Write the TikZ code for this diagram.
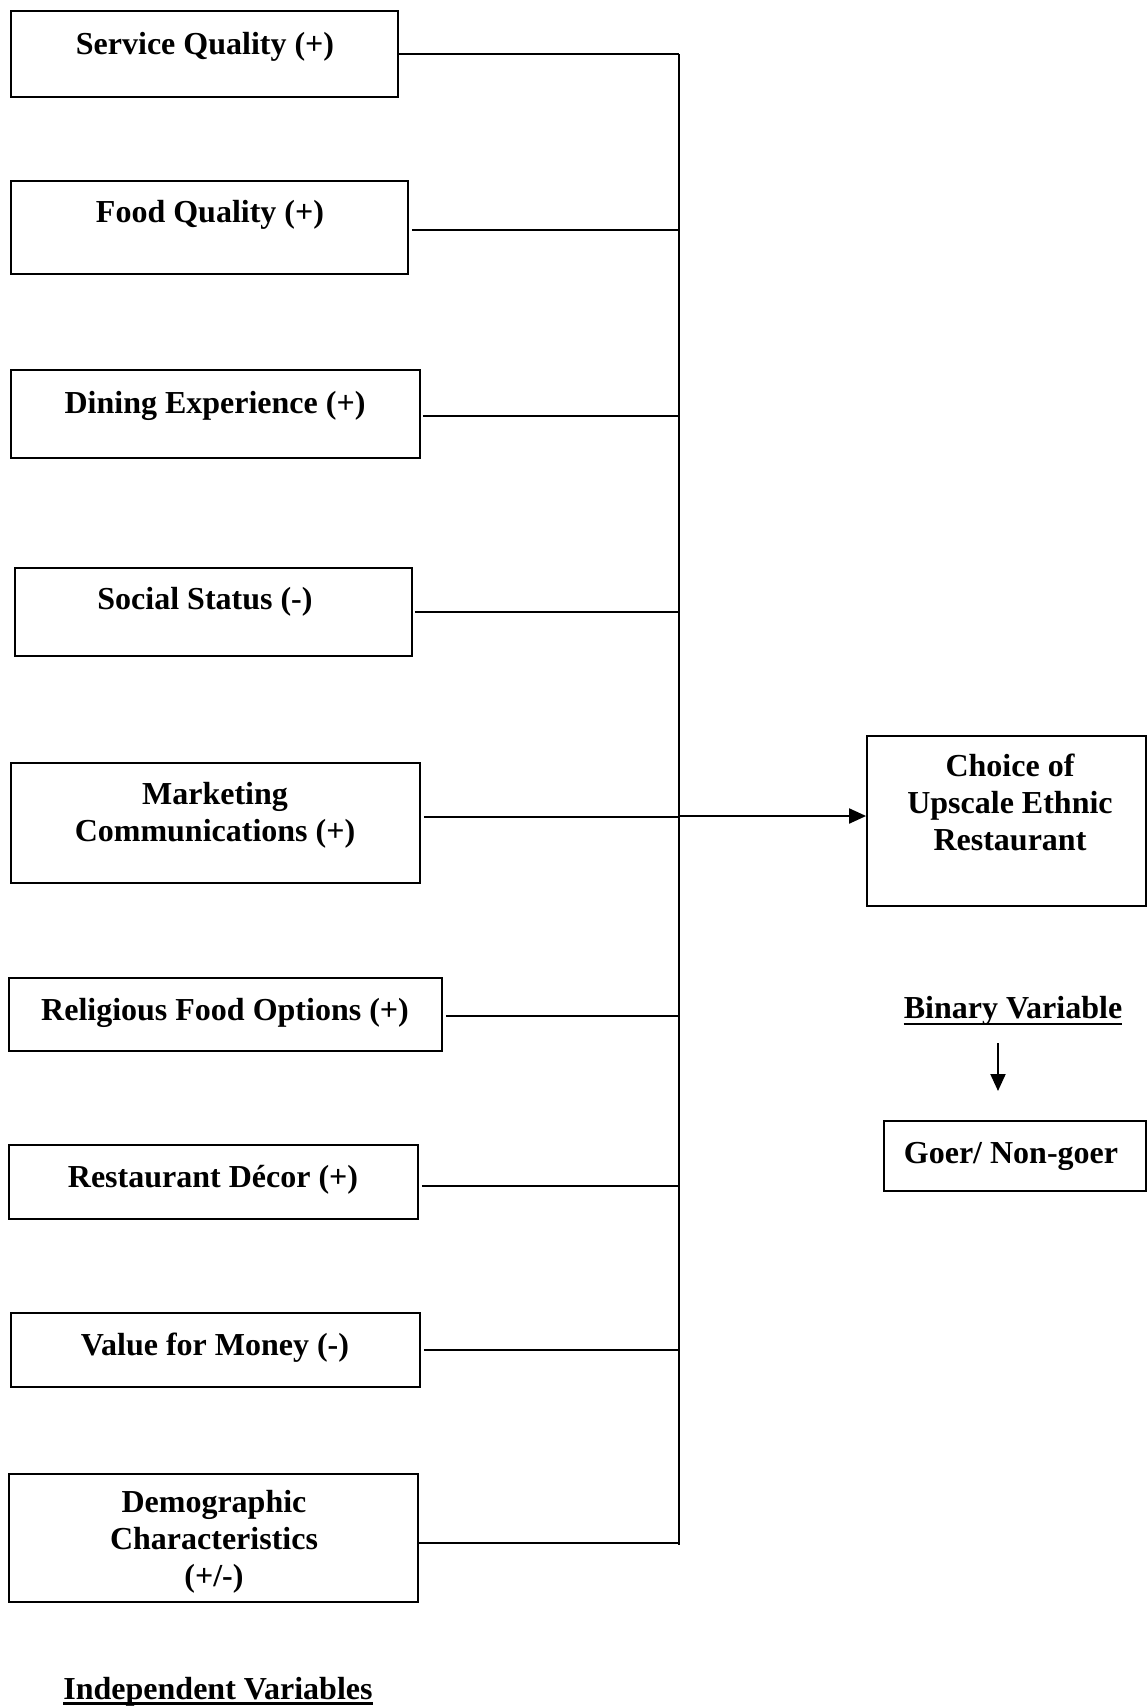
\documentclass[tikz,border=0pt]{standalone}
\usepackage{fontspec}
\setmainfont{Liberation Serif}
\usetikzlibrary{arrows.meta}
\begin{document}
\begin{tikzpicture}[x=1pt,y=-1pt,
  box/.style={draw, line width=1.8pt, rectangle, inner sep=0pt},
  lbl/.style={font=\bfseries\fontsize{32}{37}\selectfont, inner sep=0pt, align=center, anchor=base},
  conn/.style={line width=2pt},
  arr/.style={line width=2pt, -{Triangle[length=17pt,width=15pt]}}]
\useasboundingbox (0,0) rectangle (1147,1706);
% boxes
\node[box, minimum width=387pt, minimum height=86pt]  (sq) at (204.5,54) {};
\node[box, minimum width=397pt, minimum height=93pt]  (fq) at (209.5,227.5) {};
\node[box, minimum width=409pt, minimum height=88pt]  (de) at (215.5,414) {};
\node[box, minimum width=397pt, minimum height=88pt]  (ss) at (213.5,612) {};
\node[box, minimum width=409pt, minimum height=120pt] (mc) at (215.5,823) {};
\node[box, minimum width=433pt, minimum height=73pt]  (rf) at (225.5,1014.5) {};
\node[box, minimum width=409pt, minimum height=74pt]  (rd) at (213.5,1182) {};
\node[box, minimum width=409pt, minimum height=74pt]  (vm) at (215.5,1350) {};
\node[box, minimum width=409pt, minimum height=128pt] (dc) at (213.5,1538) {};
\node[box, minimum width=279pt, minimum height=170pt] (ch) at (1006.5,821) {};
\node[box, minimum width=262pt, minimum height=70pt]  (gn) at (1015,1156) {};
% labels
\node[lbl] (sqt) at (205,54) {Service Quality (+)};
\node[lbl] (fqt) at (210,222) {Food Quality (+)};
\node[lbl] (det) at (215,413) {Dining Experience (+)};
\node[lbl] (sst) at (205,609) {Social Status (-)};
\node[lbl] (mct) at (215,841) {Marketing\\Communications (+)};
\node[lbl] (rft) at (225,1020) {Religious Food Options (+)};
\node[lbl] (rdt) at (213,1187) {Restaurant Décor (+)};
\node[lbl] (vmt) at (215,1355) {Value for Money (-)};
\node[lbl] (dct) at (214,1586) {Demographic\\Characteristics\\(+/-)};
\node[lbl] (cht) at (1010,850) {Choice of\\Upscale Ethnic\\Restaurant};
\node[lbl] (gnt) at (1011,1163) {Goer/ Non-goer};
\node[lbl] (bv) at (1013,1018) {Binary Variable};
\node[lbl] (iv) at (218,1699) {Independent Variables};
\draw[line width=2.4pt] ([yshift=-6pt]bv.base west) -- ([yshift=-6pt]bv.base east);
\draw[line width=2.4pt] ([yshift=-4.5pt]iv.base west) -- ([yshift=-4.5pt]iv.base east);
% bus
\coordinate (bt) at (679,54);
\coordinate (bb) at (679,1545);
\draw[conn] (bt) -- (bb);
\draw[conn] (sq.east) -- (bt);
\draw[conn] ([xshift=3pt,yshift=-2.5pt]fq.east) -- ([yshift=-2.5pt]fq.east -| bt);
\draw[conn] ([xshift=2pt,yshift=-2pt]de.east) -- ([yshift=-2pt]de.east -| bt);
\draw[conn] ([xshift=2pt]ss.east) -- (ss.east -| bt);
\draw[conn] ([xshift=3pt,yshift=6pt]mc.east) -- ([yshift=6pt]mc.east -| bt);
\draw[conn] ([xshift=3pt,yshift=-1.5pt]rf.east) -- ([yshift=-1.5pt]rf.east -| bt);
\draw[conn] ([xshift=3pt,yshift=-4pt]rd.east) -- ([yshift=-4pt]rd.east -| bt);
\draw[conn] ([xshift=3pt]vm.east) -- (vm.east -| bt);
\draw[conn] ([yshift=-5pt]dc.east) -- ([yshift=-5pt]dc.east -| bt);
\draw[arr] ([yshift=5pt]ch.west -| bt) -- ([yshift=5pt]ch.west);
% binary arrow
\coordinate (ba) at (998,1043);
\coordinate (bz) at (998,1091);
\draw[arr] (ba) -- (bz);
\end{tikzpicture}
\end{document}
